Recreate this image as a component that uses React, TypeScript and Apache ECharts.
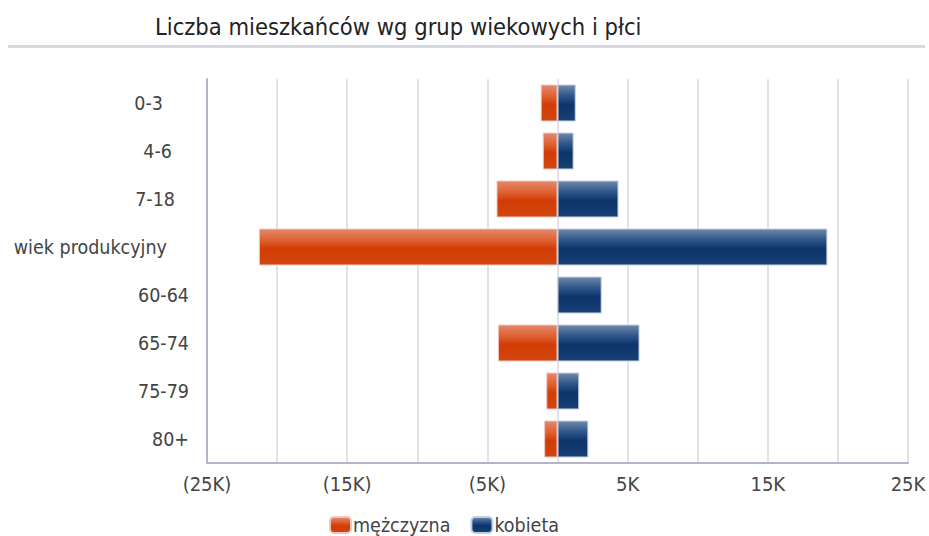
import React, { useEffect, useRef } from "react";
import * as echarts from "echarts";

const categories = ["0-3", "4-6", "7-18", "wiek produkcyjny", "60-64", "65-74", "75-79", "80+"];
const maleValues = [-1200, -1050, -4350, -21300, 0, -4250, -800, -950];
const femaleValues = [1300, 1150, 4350, 19250, 3150, 5850, 1550, 2200];
const seriesNames = ["mężczyzna", "kobieta"];
const titleText = "Liczba mieszkańców wg grup wiekowych i płci";

const labelPad: Record<string, number> = {
  "0-3": 26,
  "4-6": 17,
  "7-18": 14,
  "wiek produkcyjny": 22,
};

const FONT = "DejaVu Sans Condensed";

const orangeGrad = new echarts.graphic.LinearGradient(0, 0, 0, 1, [
  { offset: 0, color: "#e8876a" },
  { offset: 0.3, color: "#de6236" },
  { offset: 0.55, color: "#d13c04" },
  { offset: 1, color: "#d4450f" },
]);
const blueGrad = new echarts.graphic.LinearGradient(0, 0, 0, 1, [
  { offset: 0, color: "#6d89ad" },
  { offset: 0.3, color: "#2f5689" },
  { offset: 0.55, color: "#0c336b" },
  { offset: 1, color: "#1a4174" },
]);

export default function App() {
  const ref = useRef<HTMLDivElement>(null);
  useEffect(() => {
    const chart = echarts.init(ref.current!, null, { renderer: "svg" });
    const rich: Record<string, any> = {};
    categories.forEach((c, i) => {
      rich["c" + i] = {
        fontSize: 19.5,
        color: "#444",
        fontFamily: FONT,
        padding: [0, labelPad[c] || 0, 0, 0],
      };
    });
    chart.setOption({
      animation: false,
      title: {
        text: titleText,
        left: 150,
        top: 10,
        textStyle: {
          fontFamily: FONT,
          fontSize: 23.5,
          fontWeight: "normal",
          color: "#222",
        },
      },
      graphic: [
        {
          type: "rect",
          shape: { x: 8, y: 45, width: 917, height: 3 },
          style: { fill: "#d8d8e2" },
        },
      ],
      legend: {
        top: 515,
        left: 329,
        padding: 0,
        itemWidth: 21,
        itemHeight: 16,
        itemGap: 20,
        textStyle: {
          fontSize: 19.5,
          lineHeight: 20,
          color: "#444",
          fontFamily: FONT,
          padding: [0, 0, 0, -3],
        },
        data: seriesNames,
      },
      grid: { left: 207, right: 21, top: 79, bottom: 73 },
      xAxis: {
        type: "value",
        min: -25000,
        max: 25000,
        interval: 5000,
        axisLine: { show: true, lineStyle: { color: "#b4b4cc", width: 2 } },
        axisTick: { show: false },
        splitLine: { show: true, lineStyle: { color: "#e2e2ea", width: 2 } },
        axisLabel: {
          margin: 11,
          fontSize: 20,
          color: "#444",
          fontFamily: FONT,
          formatter: (v: number) => {
            if (Math.round(Math.abs(v) / 5000) % 2 === 0) return "";
            const k = Math.abs(v) / 1000 + "K";
            return v < 0 ? "(" + k + ")" : k;
          },
        },
      },
      yAxis: {
        type: "category",
        inverse: true,
        data: categories,
        axisLine: { show: true, onZero: false, lineStyle: { color: "#b4b4cc", width: 2 } },
        axisTick: { show: false },
        axisLabel: {
          margin: 18,
          formatter: (v: string) => {
            const i = categories.indexOf(v);
            return "{c" + i + "|" + v + "}";
          },
          rich,
        },
      },
      series: [
        {
          name: seriesNames[0],
          type: "bar",
          stack: "total",
          barCategoryGap: "23%",
          data: maleValues,
          itemStyle: { color: orangeGrad, borderColor: "#e9c9bf", borderWidth: 1 },
        },
        {
          name: seriesNames[1],
          type: "bar",
          stack: "total",
          barCategoryGap: "23%",
          data: femaleValues,
          itemStyle: { color: blueGrad, borderColor: "#c3cde0", borderWidth: 1 },
        },
      ],
    });
    return () => chart.dispose();
  }, []);
  return <div ref={ref} style={{ width: 929, height: 536, position: "absolute", left: 0, top: 0 }} />;
}
